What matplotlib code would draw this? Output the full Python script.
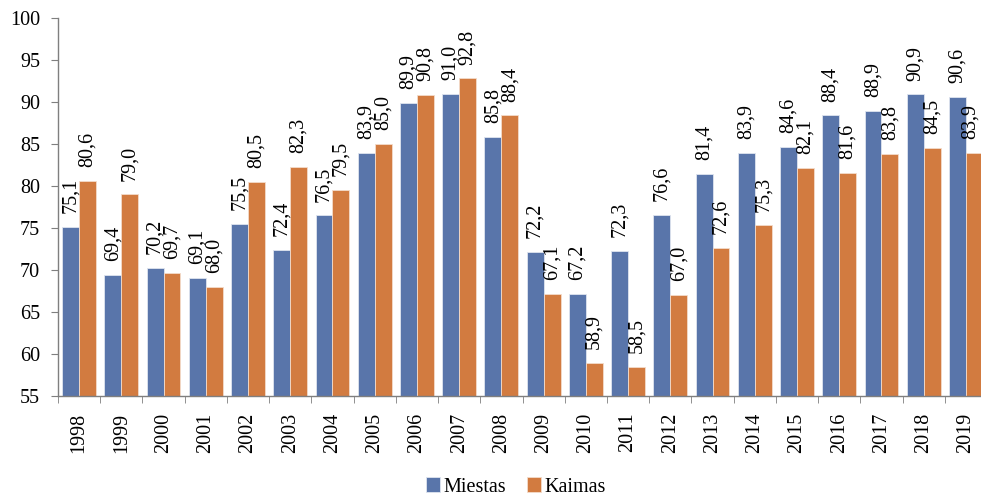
import matplotlib.pyplot as plt
import numpy as np

plt.rcParams['font.family'] = ['Liberation Serif', 'DejaVu Serif']

years = [str(y) for y in range(1998, 2020)]
miestas = [75.1, 69.4, 70.2, 69.1, 75.5, 72.4, 76.5, 83.9, 89.9, 91.0, 85.8,
           72.2, 67.2, 72.3, 76.6, 81.4, 83.9, 84.6, 88.4, 88.9, 90.9, 90.6]
kaimas = [80.6, 79.0, 69.7, 68.0, 80.5, 82.3, 79.5, 85.0, 90.8, 92.8, 88.4,
          67.1, 58.9, 58.5, 67.0, 72.6, 75.3, 82.1, 81.6, 83.8, 84.5, 83.9]

blue = '#5975aa'
orange = '#d27b40'
axis_col = '#7f7f7f'

W, H = 981, 497
fig = plt.figure(figsize=(W / 100, H / 100), dpi=100)
# axis runs past the right edge, as in the cropped original
ax = fig.add_axes([58 / W, (H - 396) / H, (987 - 58) / W, (396 - 18) / H])

x = np.arange(len(years))
bw = 0.4
b1 = ax.bar(x - bw / 2, miestas, bw, color=blue, edgecolor='#dfe5ef', linewidth=0.6, label='Miestas')
b2 = ax.bar(x + bw / 2, kaimas, bw, color=orange, edgecolor='#f3dccb', linewidth=0.6, label='Kaimas')

for bars, vals in ((b1, miestas), (b2, kaimas)):
    for i, (rect, v) in enumerate(zip(bars, vals)):
        # last label pulled a bit left so it stays inside the picture
        dx = -3 if (bars is b2 and i == len(vals) - 1) else 0
        ax.annotate(f'{v:.1f}'.replace('.', ','),
                    (rect.get_x() + rect.get_width() / 2, v),
                    xytext=(dx, 10), textcoords='offset points',
                    rotation=90, ha='center', va='bottom', fontsize=14.5)

ax.set_xlim(-0.5, len(years) - 0.5)
ax.set_ylim(55, 100)
ax.set_yticks(np.arange(55, 101, 5))
ax.set_xticks(x)
ax.set_xticklabels(years, rotation=90, fontsize=14.5)
ax.set_xticks(np.arange(-0.5, len(years), 1), minor=True)
ax.tick_params(axis='x', which='major', length=0, pad=12)
ax.tick_params(axis='x', which='minor', length=5, color=axis_col, direction='out')
ax.tick_params(axis='y', length=5, color=axis_col, direction='out', pad=8, labelsize=14.5)

for s in ('top', 'right'):
    ax.spines[s].set_visible(False)
for s in ('left', 'bottom'):
    ax.spines[s].set_color(axis_col)
    ax.spines[s].set_linewidth(1.0)

fig.legend(handles=[b1, b2], loc='center', bbox_to_anchor=(516 / W, 1 - 487 / H),
           ncol=2, frameon=False, fontsize=14.5, handlelength=0.7, handleheight=0.7,
           handletextpad=0.2, columnspacing=1.0, borderaxespad=0)

fig.savefig('out.png', dpi=100)
